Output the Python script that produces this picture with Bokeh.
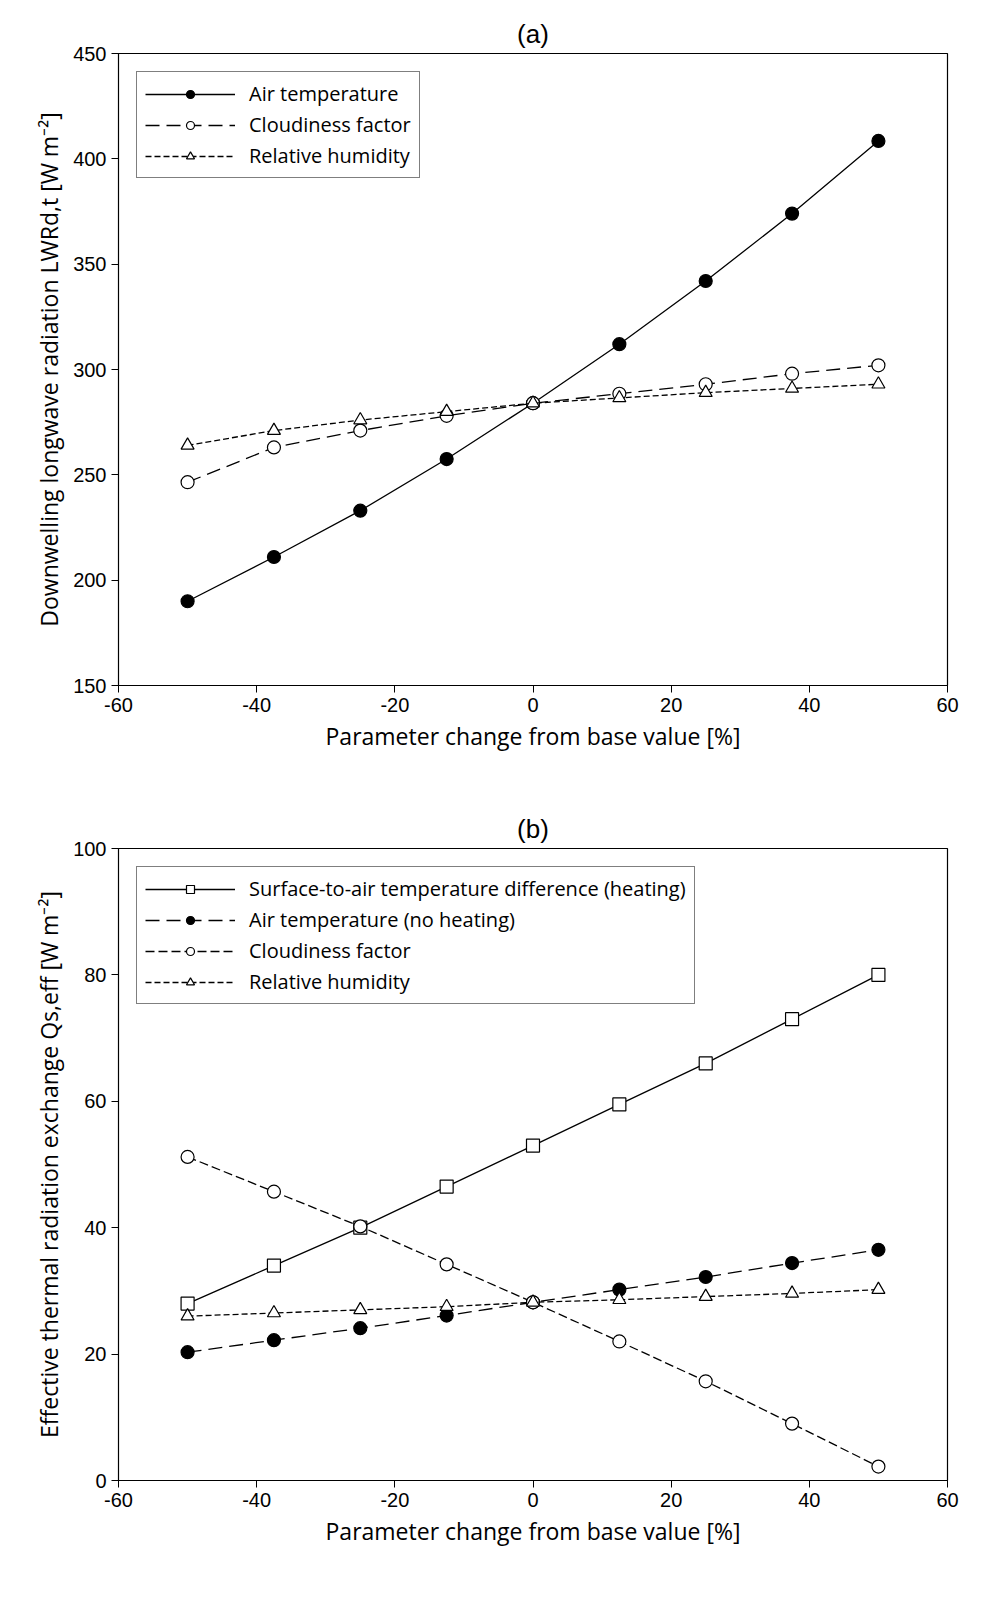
from bokeh.plotting import figure
from bokeh.layouts import column
from bokeh.models import Range1d, Legend, LegendItem
from bokeh.embed import file_html
from bokeh.resources import INLINE

x = [-50, -37.5, -25, -12.5, 0, 12.5, 25, 37.5, 50]

# panel (a)
a_air = [190, 211, 233, 257.5, 284, 312, 342, 374, 408.5]
a_cloud = [246.5, 263, 271, 278, 284, 288.5, 293, 298, 302]
a_rh = [264, 271, 276, 280, 284, 286.5, 289, 291, 293]

# panel (b)
b_surf = [28, 34, 40, 46.5, 53, 59.5, 66, 73, 80]
b_air = [20.3, 22.2, 24.1, 26.1, 28.2, 30.2, 32.2, 34.4, 36.5]
b_cloud = [51.2, 45.7, 40.2, 34.2, 28.2, 22, 15.7, 9, 2.2]
b_rh = [26, 26.5, 27, 27.5, 28.2, 28.6, 29.1, 29.6, 30.2]

x_ticks = [-60, -40, -20, 0, 20, 40, 60]


def make_fig(title, ylabel, yr, yticks, height):
    p = figure(width=975, height=height, output_backend="svg", toolbar_location=None,
               x_range=Range1d(-60, 60), y_range=Range1d(*yr),
               min_border_left=118, min_border_right=28, min_border_top=53, min_border_bottom=110)
    p.title.text = title
    p.title.align = "center"
    p.title.text_font = "Liberation Sans"
    p.title.text_font_style = "normal"
    p.title.text_font_size = "26px"
    p.title.text_color = "black"
    p.grid.visible = False
    p.outline_line_color = "black"
    p.outline_line_width = 1.2
    p.xaxis.ticker = x_ticks
    p.yaxis.ticker = yticks
    p.xaxis.major_label_overrides = {t: str(t).replace("\u2212", "-") for t in x_ticks}
    for ax in (p.xaxis, p.yaxis):
        ax.minor_tick_line_color = None
        ax.major_tick_out = 7
        ax.major_tick_in = 0
        ax.axis_line_color = "black"
        ax.major_label_text_font = "Liberation Sans"
        ax.major_label_text_font_size = "20px"
        ax.major_label_text_color = "black"
        ax.axis_label_text_font = "Open Sans"
        ax.axis_label_text_font_size = "23px"
        ax.axis_label_text_font_style = "normal"
        ax.axis_label_text_color = "black"
    p.xaxis.axis_label = "Parameter change from base value [%]"
    p.yaxis.axis_label = ylabel
    return p


def series(p, ys, dash, marker, fill, size=13):
    r1 = p.line(x, ys, line_color="black", line_width=1.3, line_dash=dash)
    r2 = p.scatter(x, ys, marker=marker, size=size, line_color="black",
                   fill_color=fill, line_width=1.2)
    return [r1, r2]


pa = make_fig("(a)", "Downwelling longwave radiation LWRd,t [W m⁻²]", (150, 450),
              [150, 200, 250, 300, 350, 400, 450], 795)
items_a = [
    LegendItem(label="Air temperature", renderers=series(pa, a_air, "solid", "circle", "black")),
    LegendItem(label="Cloudiness factor", renderers=series(pa, a_cloud, "14 7", "circle", "white")),
    LegendItem(label="Relative humidity", renderers=series(pa, a_rh, "6 3", "triangle", "white")),
]

pb = make_fig("(b)", "Effective thermal radiation exchange Qs,eff [W m⁻²]", (0, 100),
              [0, 20, 40, 60, 80, 100], 795)
items_b = [
    LegendItem(label="Surface-to-air temperature difference (heating)",
               renderers=series(pb, b_surf, "solid", "square", "white")),
    LegendItem(label="Air temperature (no heating)", renderers=series(pb, b_air, "14 7", "circle", "black")),
    LegendItem(label="Cloudiness factor", renderers=series(pb, b_cloud, "9 4", "circle", "white")),
    LegendItem(label="Relative humidity", renderers=series(pb, b_rh, "6 3", "triangle", "white")),
]

for p, items in ((pa, items_a), (pb, items_b)):
    lg = Legend(items=items, location="top_left")
    lg.border_line_color = "black"
    lg.border_line_width = 1.2
    lg.label_text_font = "Open Sans"
    lg.label_text_font_size = "20px"
    lg.label_text_color = "black"
    lg.glyph_width = 90
    lg.label_standoff = 14
    lg.spacing = 4
    lg.padding = 8
    lg.margin = 18
    p.add_layout(lg)

layout = column(pa, pb, spacing=0)
open("out.html", "w").write(file_html(layout, INLINE))
